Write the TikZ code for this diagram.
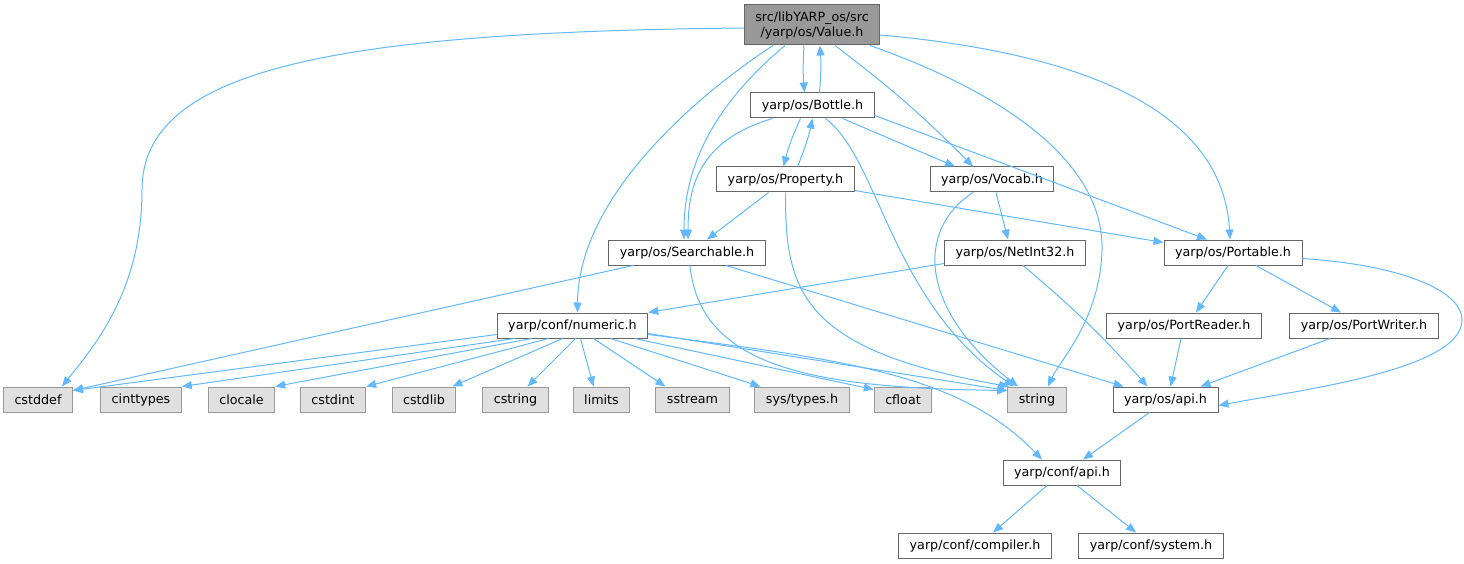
\documentclass[tikz,border=0pt]{standalone}
\usepackage{fontspec}
\setmainfont{DejaVu Sans}
\usetikzlibrary{arrows.meta}
\definecolor{edgeBlue}{HTML}{63B8FF}
\definecolor{boxLine}{HTML}{666666}
\definecolor{sysLine}{HTML}{999999}
\definecolor{sysFill}{HTML}{E0E0E0}
\definecolor{rootFill}{HTML}{999999}

\begin{document}
\begin{tikzpicture}
  [x=1pt,y=-1pt,
   fileN/.style={draw=boxLine,line width=1pt,minimum height=25pt,inner xsep=11pt,inner ysep=2pt,font=\fontsize{12.7}{15}\selectfont},
   locN/.style={fileN,fill=white},
   sysN/.style={fileN,draw=sysLine,fill=sysFill},
   rootN/.style={fileN,fill=rootFill,align=center,minimum height=40pt},
   incE/.style={draw=edgeBlue,line width=1pt,-{Triangle[length=10pt,width=8pt]}},
  ]
 \useasboundingbox (0,0) rectangle (1464,564);

 \node[rootN] (v) at (812,25) {src/libYARP\_os/src\\/yarp/os/Value.h};
 \node[locN] (b) at (812.5,105.5) {yarp/os/Bottle.h};
 \node[locN] (p) at (785.5,179.5) {yarp/os/Property.h};
 \node[locN] (vc) at (992,179.5) {yarp/os/Vocab.h};
 \node[locN] (s) at (687,252.5) {yarp/os/Searchable.h};
 \node[locN] (n) at (1015,252.5) {yarp/os/NetInt32.h};
 \node[locN] (pt) at (1233,252.5) {yarp/os/Portable.h};
 \node[locN] (num) at (572.5,325.5) {yarp/conf/numeric.h};
 \node[locN] (pr) at (1184,325.5) {yarp/os/PortReader.h};
 \node[locN] (pw) at (1364,325.5) {yarp/os/PortWriter.h};

 \node[sysN] (cstddef) at (38,399.5) {cstddef};
 \node[sysN] (cinttypes) at (141,399.5) {cinttypes};
 \node[sysN] (clocale) at (241.5,399.5) {clocale};
 \node[sysN] (cstdint) at (333,399.5) {cstdint};
 \node[sysN] (cstdlib) at (424,399.5) {cstdlib};
 \node[sysN] (cstring) at (515.5,399.5) {cstring};
 \node[sysN] (limits) at (601.5,399.5) {limits};
 \node[sysN] (sstream) at (692.5,399.5) {sstream};
 \node[sysN] (systypes) at (802,399.5) {sys/types.h};
 \node[sysN] (cfloat) at (903,399.5) {cfloat};
 \node[sysN] (string) at (1037,399.5) {string};
 \node[locN] (osapi) at (1165.5,399.5) {yarp/os/api.h};
 \node[locN] (capi) at (1062,472.5) {yarp/conf/api.h};
 \node[locN] (cc) at (975,545.5) {yarp/conf/compiler.h};
 \node[locN] (cs) at (1151,545.5) {yarp/conf/system.h};

 % Value.h
 \draw[incE] ([yshift=-3pt]v.west) .. controls (330,32) and (142,70) .. (142,190)
   .. controls (142,290) and (95,345) .. ([xshift=24pt]cstddef.north);
 \draw[incE] ([xshift=-39pt]v.south) .. controls (690,100) and (578,200) .. ([xshift=5pt]num.north);
 \draw[incE] ([xshift=-27pt]v.south) .. controls (720,100) and (684,160) .. ([xshift=-3pt]s.north);
 \draw[incE] ([xshift=-8pt]v.south) to[bend right=4] ([xshift=-8pt]b.north);
 \draw[incE] ([xshift=23pt]v.south) to[bend left=4] ([xshift=-19pt]vc.north);
 \draw[incE] ([xshift=58pt]v.south) .. controls (1010,95) and (1104,165) .. (1102,250)
   .. controls (1100,320) and (1060,360) .. ([xshift=11pt]string.north);
 \draw[incE] ([yshift=-10pt]v.east) .. controls (1160,60) and (1225,150) .. ([xshift=-3pt]pt.north);

 % Bottle.h
 \draw[incE] ([xshift=7pt]b.north) to[bend right=4] ([xshift=8pt]v.south);
 \draw[incE] ([xshift=-12pt]b.south) to[bend right=5] ([xshift=-2pt]p.north);
 \draw[incE] ([xshift=-40pt]b.south) .. controls (700,140) and (688,185) .. ([xshift=1pt]s.north);
 \draw[incE] ([xshift=30pt]b.south) -- ([xshift=-37pt]vc.north);
 \draw[incE] ([xshift=13pt]b.south) .. controls (880,160) and (890,300) .. ([xshift=-23pt]string.north);
 \draw[incE] ([yshift=-10pt]b.east) -- ([xshift=-26pt]pt.north);

 % Property.h
 \draw[incE] ([xshift=12pt]p.north) to[bend right=5] (b.south);
 \draw[incE] ([xshift=-17pt]p.south) -- ([xshift=20pt]s.north);
 \draw[incE] (p.south) .. controls (785,290) and (800,350) .. ([xshift=-28pt]string.north);
 \draw[incE] ([yshift=2pt]p.south east) -- ([yshift=-3pt]pt.north west);

 % Vocab.h, NetInt32.h
 \draw[incE] ([xshift=-19pt]vc.south) .. controls (915,230) and (920,310) .. ([xshift=-19pt]string.north);
 \draw[incE] ([xshift=4pt]vc.south) -- ([xshift=-7pt]n.north);
 \draw[incE] ([yshift=2pt]n.south west) -- (num.north east);
 \draw[incE] ([xshift=8pt]n.south) to[bend left=4] ([xshift=-18pt]osapi.north);

 % Searchable.h
 \draw[incE] ([xshift=-54pt]s.south) -- ([yshift=-4pt]cstddef.north east);
 \draw[incE] ([xshift=3pt]s.south) .. controls (700,370) and (820,388) .. ([yshift=-4pt]string.north west);
 \draw[incE] ([xshift=39pt]s.south) -- ([xshift=-42pt]osapi.north);

 % numeric.h
 \draw[incE] ([yshift=4pt]num.south west) -- ([yshift=-4pt]cstddef.north east);
 \draw[incE] ([xshift=-58pt]num.south) -- (cinttypes.north east);
 \draw[incE] ([xshift=-41pt]num.south) -- (clocale.north east);
 \draw[incE] ([xshift=-24pt]num.south) -- (cstdint.north east);
 \draw[incE] ([xshift=-10pt]num.south) -- ([xshift=-4pt]cstdlib.north east);
 \draw[incE] ([xshift=3pt]num.south) -- ([xshift=12pt]cstring.north);
 \draw[incE] ([xshift=8pt]num.south) -- ([xshift=-8pt]limits.north);
 \draw[incE] ([xshift=21pt]num.south) -- ([xshift=-27pt]sstream.north);
 \draw[incE] ([xshift=38pt]num.south) -- ([xshift=6pt]systypes.north west);
 \draw[incE] ([xshift=62pt]num.south) -- ([yshift=-3pt]cfloat.north west);
 \draw[incE] ([yshift=-8pt]num.east) -- ([yshift=-4pt]string.north west);
 \draw[incE] ([yshift=-9pt]num.east) .. controls (850,360) and (960,375) .. ([xshift=-20pt]capi.north);

 % Portable.h and below
 \draw[incE] ([xshift=-5pt]pt.south) -- ([xshift=12pt]pr.north);
 \draw[incE] ([xshift=23pt]pt.south) -- ([xshift=-23pt]pw.north);
 \draw[incE] ([yshift=-6pt]pt.east) .. controls (1400,265) and (1462,290) .. (1462,320)
   .. controls (1462,370) and (1300,390) .. ([yshift=-6pt]osapi.east);
 \draw[incE] ([xshift=-3pt]pr.south) -- ([xshift=5pt]osapi.north);
 \draw[incE] ([xshift=-34pt]pw.south) -- ([xshift=35pt]osapi.north);
 \draw[incE] ([xshift=-16pt]osapi.south) -- ([xshift=21pt]capi.north);
 \draw[incE] ([xshift=-15pt]capi.south) -- ([xshift=18pt]cc.north);
 \draw[incE] ([xshift=15pt]capi.south) -- ([xshift=-15pt]cs.north);
\end{tikzpicture}
\end{document}
